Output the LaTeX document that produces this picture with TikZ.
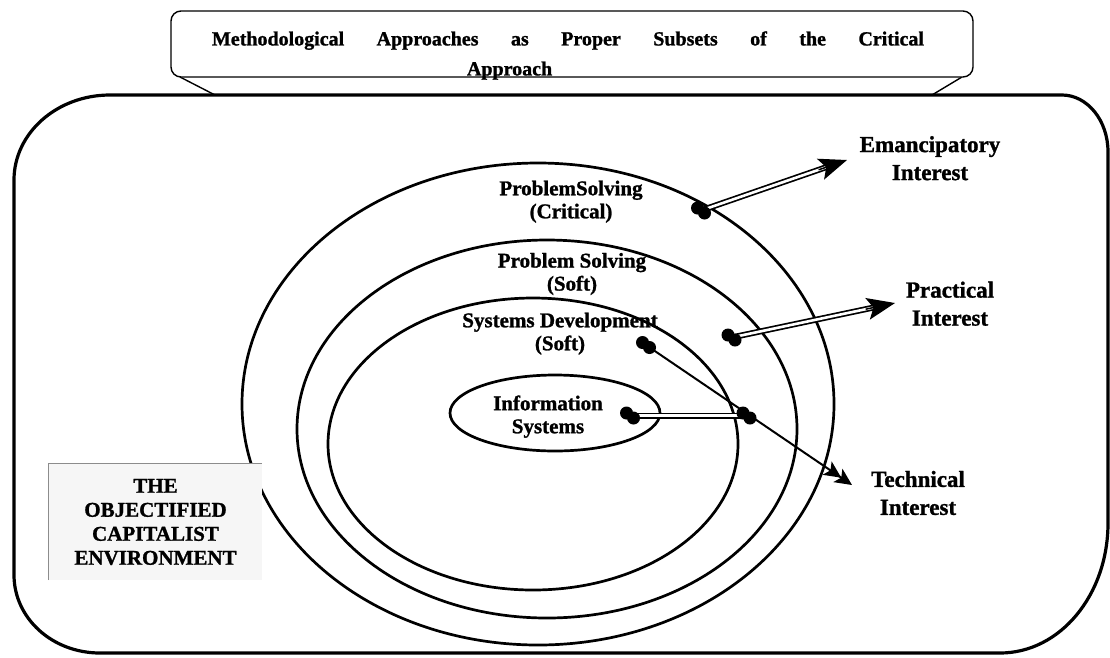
\documentclass[tikz,border=0pt]{standalone}
\usepackage{fontspec}
\setmainfont{Liberation Serif}[BoldFeatures={FakeBold=1.2}]
\usepackage{tikz}
\tikzset{every picture/.style={/utils/exec={\bfseries}}}
\usetikzlibrary{arrows.meta, calc}
\definecolor{env_fill}{rgb}{0.965, 0.965, 0.965}
\definecolor{env_edge}{rgb}{0.55, 0.55, 0.55}
\tikzset{
  ring/.style={line width=2.7pt},
  ringtext/.style={align=center, font=\fontsize{21}{23}\selectfont\bfseries},
  interesttext/.style={align=center, font=\fontsize{23}{28}\selectfont\bfseries},
  titletext/.style={align=left, inner sep=0pt, font=\fontsize{20}{30}\selectfont\bfseries},
  envbox/.style={fill=env_fill, minimum width=213pt, minimum height=116pt, align=center, font=\fontsize{21}{24}\selectfont\bfseries},
  twoline/.style={draw, line width=1.7pt, double=white, double distance=2.6pt},
  oneline/.style={draw, line width=2pt},
  bighead/.style={draw, line width=1.5pt, -{Stealth[length=28pt, width=22pt, inset=6pt]}},
  blob/.style={fill=black}
}
\newcommand{\dotpair}[1]{\fill[blob] (#1) ++(-3.5,-2.5) circle[radius=6.5] ++(7,5) circle[radius=6.5];}

\begin{document}
\begin{tikzpicture}[x=1pt, y=-1pt]
    \useasboundingbox (0,0) rectangle (1110,657);
    % environment frame
    \filldraw[fill=white, line width=3.2pt] (110,95) -- (1062,95)
        .. controls (1087,95) and (1108,120) .. (1108,152) -- (1108,523)
        .. controls (1108,595) and (1060,653) .. (1000,653) -- (100,653)
        .. controls (52,653) and (14,618) .. (14,575) -- (14,180)
        .. controls (14,133) and (57,95) .. (110,95) -- cycle;
    % title box
    \draw[line width=1.4pt] (180,77) -- (215,95);
    \draw[line width=1.4pt] (962,77) -- (932,95);
    \filldraw[fill=white, line width=1.4pt, rounded corners=10] (171,11) rectangle (973,77);
    \node[titletext] (title) at (568,55.5) {\makebox[712pt][s]{Methodological Approaches as Proper Subsets of the Critical}\\\hspace*{255pt}Approach};

    % nested approaches
    \draw[ring] (538,404) ellipse [x radius=296, y radius=241];
    \draw[ring] (547,429) ellipse [x radius=250, y radius=189];
    \draw[ring] (533,444) ellipse [x radius=205, y radius=146];
    \draw[ring] (555,413) ellipse [x radius=105, y radius=38];

    \node[ringtext] (critical) at (571,201.7) {ProblemSolving\\(Critical)};
    \node[ringtext] (softps) at (572,274) {Problem Solving\\(Soft)};
    \node[ringtext] (softsd) at (560,333.7) {Systems Development\\(Soft)};
    \node[ringtext] (infosys) at (548,416.6) {Information\\Systems};

    \node[interesttext] (emancip) at (930,158.2) {Emancipatory\\Interest};
    \node[interesttext] (practical) at (950,303.7) {Practical\\Interest};
    \node[interesttext] (technical) at (918,493) {Technical\\Interest};

    \node[envbox] (env) at (155.5,522) {THE\\OBJECTIFIED\\CAPITALIST\\ENVIRONMENT};
    \draw[env_edge, line width=1.2pt] (env.south west) -- (env.north west) -- (env.north east);

    % interests
    \coordinate (em-s) at (701,210.5);
    \coordinate (em-e) at (847,160);
    \coordinate (pr-s) at (731.5,337.5);
    \coordinate (pr-e) at (895,303);
    \coordinate (te-s) at (646,345);
    \coordinate (te-e) at (852,485);
    \coordinate (is-s) at (630,415.5);
    \coordinate (is-e) at (746.5,415.5);

    \draw[twoline, shorten >=22pt] (em-s) -- (em-e);
    \draw[bighead] ($(em-e)!30pt!(em-s)$) -- (em-e);
    \draw[twoline, shorten >=22pt] (pr-s) -- (pr-e);
    \draw[bighead] ($(pr-e)!30pt!(pr-s)$) -- (pr-e);
    \draw[oneline, -{Stealth[length=17pt, width=16pt, inset=4pt, sep=-4pt] Stealth[length=17pt, width=16pt, inset=4pt]}] (te-s) -- (te-e);
    \draw[twoline] (is-s) -- (is-e);
    \dotpair{em-s}
    \dotpair{pr-s}
    \dotpair{te-s}
    \dotpair{is-s}
    \dotpair{is-e}
\end{tikzpicture}
\end{document}
